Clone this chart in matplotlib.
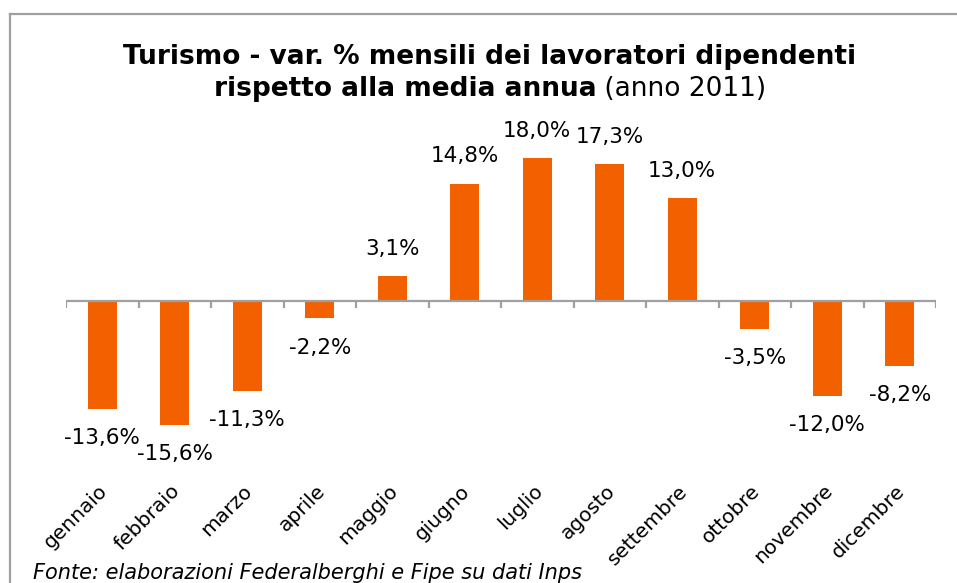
import numpy as np
import matplotlib; matplotlib.use("Agg")
import matplotlib.pyplot as plt
from matplotlib.lines import Line2D

mesi = ["gennaio", "febbraio", "marzo", "aprile", "maggio", "giugno",
        "luglio", "agosto", "settembre", "ottobre", "novembre", "dicembre"]
var_pct = [-13.6, -15.6, -11.3, -2.2, 3.1, 14.8, 18.0, 17.3, 13.0, -3.5, -12.0, -8.2]

W, H = 957, 583
arancio = "#F36000"
grigio = "#A0A0A0"
plt.rcParams["font.family"] = "DejaVu Sans"

fig = plt.figure(figsize=(W/100, H/100), dpi=100)
# plot area: x 66..936 px, y 120..482 px (zero line at ~301 px)
ax = fig.add_axes([66/W, (H-482)/H, 870/W, 362/H])
x = np.arange(len(mesi))
ax.bar(x, var_pct, width=0.4, color=arancio, zorder=2)
ax.set_xlim(-0.5, len(mesi)-0.5); ax.set_ylim(-22.8, 22.8)

# zero axis with tick marks at category boundaries
ax.axhline(0, color=grigio, lw=1.6, zorder=3)
ax.vlines(np.arange(len(mesi)+1)-0.5, -0.9, 0, color=grigio, lw=1.6, zorder=3)

for xi, v in zip(x, var_pct):
    lab = f"{v:.1f}%".replace(".", ",")
    off = 19.5 if v > 0 else -21
    ax.annotate(lab, (xi, v), xytext=(0, off), textcoords="offset points",
                ha="center", va="center", fontsize=15.5)

ax.set_yticks([])
ax.set_xticks(x - 0.06)
ax.set_xticklabels(mesi, rotation=45, ha="right", rotation_mode="anchor", fontsize=14.5)
ax.tick_params(axis="x", length=0, pad=-0.5)
for s in ax.spines.values():
    s.set_visible(False)

# title: bold line + mixed bold/normal line
fig.text(490/W, 1-57/H, "Turismo - var. % mensili dei lavoratori dipendenti",
         ha="center", va="center", fontsize=19, fontweight="bold")
r = fig.canvas.get_renderer()
t1 = fig.text(0, 1-89/H, "rispetto alla media annua", ha="left", va="center",
              fontsize=19, fontweight="bold")
t2 = fig.text(0, 1-89/H, " (anno 2011)", ha="left", va="center", fontsize=19)
w1 = t1.get_window_extent(r).width; w2 = t2.get_window_extent(r).width
x0 = 490 - (w1 + w2)/2
t1.set_x(x0/W); t2.set_x((x0 + w1)/W)

fig.text(33/W, 1-573/H, "Fonte: elaborazioni Federalberghi e Fipe su dati Inps",
         ha="left", va="center", fontsize=15, style="italic")

# outer frame (only left and top visible)
fig.add_artist(Line2D([10/W, 10/W], [0, 1-14/H], transform=fig.transFigure, color=grigio, lw=1.6))
fig.add_artist(Line2D([10/W, 1], [1-14/H, 1-14/H], transform=fig.transFigure, color=grigio, lw=1.6))

fig.savefig("out.png", dpi=100)
